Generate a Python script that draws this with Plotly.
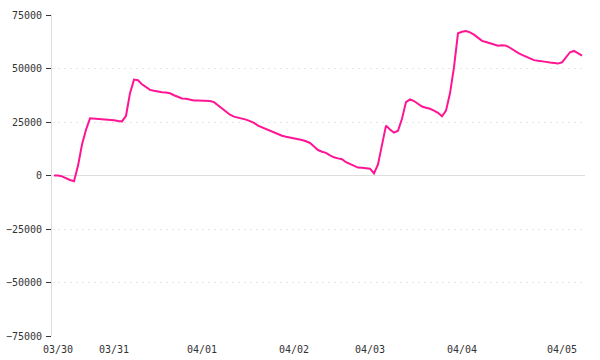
import plotly.graph_objects as go

values = [
    0, 0, -400, -1300, -2100, -2700, 4500, 14500, 21400, 26700,
    26600, 26300, 26100, 26000, 25900, 25800, 25500, 25300, 27900, 38500,
    44800, 44500, 42600, 41400, 40000, 39600, 39200, 38900, 38800, 38400,
    37500, 36700, 36000, 35900, 35400, 35100, 35100, 35100, 35000, 34800,
    34300, 32900, 31400, 29700, 28400, 27500, 27100, 26700, 26100, 25400,
    24600, 23300, 22500, 21900, 21100, 20200, 19300, 18600, 18100, 17700,
    17500, 17200, 16600, 16000, 15200, 13600, 11900, 11100, 10600, 9400,
    8500, 8000, 7600, 6200, 5300, 4400, 3700, 3600, 3400, 3200,
    1000, 5200, 14300, 23300, 21500, 20000, 20900, 26500, 34300, 35600,
    34800, 33500, 32200, 31700, 31200, 30300, 29300, 27700, 30300, 38400,
    50600, 66500, 67200, 67500, 66900, 65800, 64200, 62900, 62400, 61900,
    61300, 60600, 60900, 60700, 59700, 58400, 57300, 56400, 55500, 54600,
    53900, 53600, 53500, 53100, 52800, 52500, 52300, 52900, 55100, 57600,
    58200, 57200, 56000,
]

day_labels = ["03/30", "03/31", "04/01", "04/02", "04/03", "04/04", "04/05"]
day_start_index = [1, 15, 37, 60, 79, 102, 127]

y_ticks = [-75000, -50000, -25000, 0, 25000, 50000, 75000]

sample_index = list(range(len(values)))

fig = go.Figure()
fig.add_trace(go.Scatter(
    x=sample_index, y=values, mode="lines",
    line=dict(color="#ff1493", width=2),
    hoverinfo="skip",
))

font = dict(family="DejaVu Sans Mono", size=10, color="#333333")

fig.update_layout(
    width=600, height=360,
    margin=dict(l=52, r=15, t=15, b=24),
    paper_bgcolor="white", plot_bgcolor="white",
    showlegend=False,
    font=font,
    xaxis=dict(
        range=[-0.5, 132.75], automargin=False,
        tickmode="array", tickvals=day_start_index, ticktext=day_labels,
        showgrid=False, zeroline=False, showline=False,
        ticks="", tickfont=font, ticklabelstandoff=6,
    ),
    yaxis=dict(
        range=[-75000, 75000], automargin=False,
        tickmode="array", tickvals=y_ticks,
        ticktext=[str(v).replace("-", "\u2212") for v in y_ticks],
        showgrid=True, gridcolor="#e6e6e6", griddash="2px,4px", gridwidth=1,
        zeroline=True, zerolinecolor="#dddddd", zerolinewidth=1,
        showline=True, linecolor="#dddddd", linewidth=1,
        ticks="outside", ticklen=5, tickcolor="#333333", tickwidth=1,
        tickfont=font, ticklabelstandoff=2,
    ),
)

fig.write_html("out.html")
